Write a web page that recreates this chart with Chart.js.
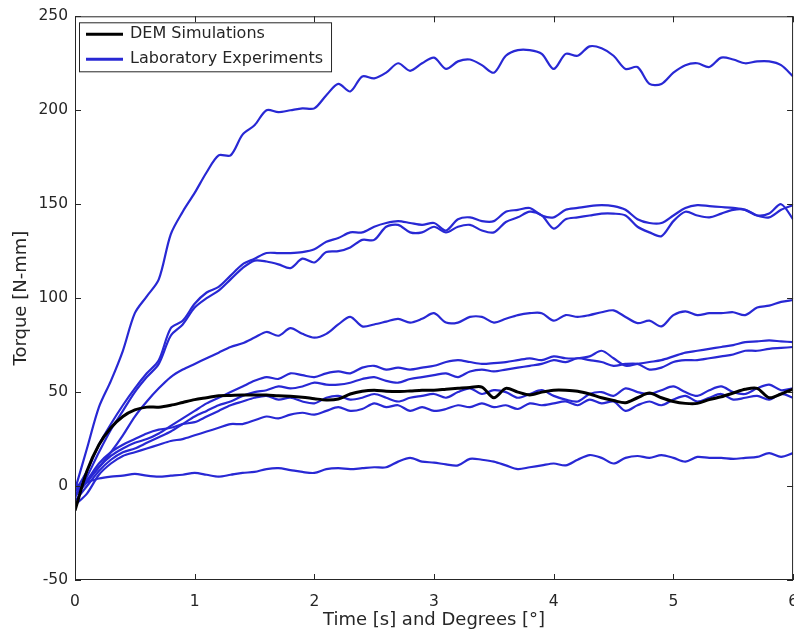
<!DOCTYPE html>
<html>
<head>
<meta charset="utf-8">
<script src="https://cdn.jsdelivr.net/npm/chart.js@4"></script>
<style>
  html, body { margin: 0; padding: 0; background: #fff; }
  #wrap { width: 794px; height: 633px; overflow: hidden; }
</style>
</head>
<body>
<div id="wrap"><canvas id="torque-chart" width="811" height="633"></canvas></div>
<script>
// sample times [s]
const time = [0,0.1,0.2,0.3,0.4,0.5,0.6,0.7,0.8,0.9,1,1.1,1.2,1.3,1.4,1.5,1.6,1.7,1.8,1.9,2,2.1,2.2,2.3,2.4,2.5,2.6,2.7,2.8,2.9,3,3.1,3.2,3.3,3.4,3.5,3.6,3.7,3.8,3.9,4,4.1,4.2,4.3,4.4,4.5,4.6,4.7,4.8,4.9,5,5.1,5.2,5.3,5.4,5.5,5.6,5.7,5.8,5.9,6];

const demTorque = [-13,8,22,31,37,40.5,42,42,43,44.5,46,47,48,48.2,48.4,48.4,48.4,48,47.8,47.3,46.5,45.8,46.3,49,50.5,51,50.5,50.3,50.6,51,51,51.5,52,52.5,52.7,47,52,50,48.5,50,51,51,50.5,49,47,45.5,44.3,47,49.5,47,45,44,44,46,47.5,49.5,51.5,52,47,49,51.6];

// laboratory runs
const labRun1 = [-2,20,42,56,72,92,101,110,134,146,156,167,176,176,187,192,200,199,200,201,201,208,214,210,218,217,220,225,221,225,228,222,226,227,224,220,229,232,232,230,222,230,229,234,233,229,222,223,214,214,220,224,225,223,228,227,225,226,226,224,218];
const labRun2 = [-3,8,22,33,43,52,60,67,84,88,97,103,106,112,118,121,124,124,124,124.5,126,130,132,135,135,138,140,141,140,139,140,136,142,143,141,141,146,147,148,144,143,147,148,149,149.5,149,147,142,140,140,144,148,149.5,149,148.5,148,147,144,145,150,142];
const labRun3 = [-6,5,18,30,40,50,58,65,80,86,95,100,104,110,116,120,119.5,118,116,121,119,124.5,125,127,131,131,138,139,135,135,138,135,138,139,136,135,140.5,143,146,144,137,142,143,144,145,145,144,138,135,133,141,146,144,143,145,147,147,144,143,147,149.5];
const labRun4 = [-3,3,10,18,27,37,45,52,58,62,65,68,71,74,76,79,82,80,84,81,79,81,86,90,85,86,87.5,89,87,89,92,87,87,90,90,87,89,91,92,92,88,91,90,91,92.5,93.5,90,86.7,88,85,91,93,91,92,92,92.5,91,95,96,98,99];
const labRun5 = [-5,2,10,16,20,23,25,28,32,36,40,44,47,50,53,56,58,57,60,59,58,60,61,60,63,64,62,63,62,63,64,66,67,66,65,65.4,66,67,68,67,69,68,68,69,72,68,64,65,66,67,69,71,72,73,74,75,76.6,77,77.5,77,76.6];
const labRun6 = [-8,0,8,14,18,20,23,26,29,33,37,40,43,45,48,50,51,53,52,53,55,54,54,55,57,58,56,55,57,58,59,60,58,61,62,61,62,63,64,65,67,66,68,67,66,64,65,65,62,63,66,67,67,68,69,70,72,72,73,73.5,74];
const labRun7 = [-5,3,12,18,22,25,28,30,31,33,34,37,40,43,45,47,48,46,47,45,44,47,48,46,47,49,47,45,47,48,49,47,50,52,49,51,50,47,49,51,48,46,45,49,50,48,52,50,49,51,53,50,48,51,53,50,49,52,54,51,52];
const labRun8 = [-10,-4,6,12,16,18,20,22,24,25,27,29,31,33,33,35,37,36,38,39,38,40,42,40,41,44,42,43,40,42,40,41,43,42,44,42,43,41,44,43,44,45,43,46,44,45,40,43,45,43,46,48,45,47,49,46,47,48,46,49,47];
const labRun9 = [0,2,4,5,5.5,6.5,5.5,5,5.5,6,7,6,5,6,7,7.5,9,9.5,8.5,7.5,7,9,9.5,9,9.5,10,10,13,15,13,12.5,11.5,11,14.5,14,13,11,9,10,11,12,11,14,16.5,15,12,15,16,15,16.5,15,13,15.5,15,15,14.5,15,15.5,17.5,15.5,17.5];

const labRuns = [labRun1, labRun2, labRun3, labRun4, labRun5, labRun6, labRun7, labRun8, labRun9];
const legendLabels = ['DEM Simulations', 'Laboratory Experiments'];
const xTicks = [0, 1, 2, 3, 4, 5, 6];
const yTicks = [-50, 0, 50, 100, 150, 200, 250];

const BLUE = '#2828d4';
const INK = '#262626';
const FONT = '"DejaVu Sans", Verdana, sans-serif';

const toPoints = vals => vals.map((v, i) => ({ x: time[i], y: v }));

const datasets = [
    {
        label: legendLabels[0],
        data: toPoints(demTorque),
        borderColor: '#000',
        borderWidth: 3,
        pointRadius: 0,
        tension: 0.3
    }
].concat(labRuns.map((run, i) => ({
    label: legendLabels[1] + ' ' + (i + 1),
    data: toPoints(run),
    borderColor: BLUE,
    borderWidth: 2.2,
    pointRadius: 0,
    tension: 0.3
})));

// MATLAB style box with inward ticks, plus the legend box
const axesBox = {
    id: 'axesBox',
    afterDatasetsDraw(chart) {
        const { ctx, chartArea: a, scales } = chart;
        ctx.save();
        ctx.strokeStyle = INK;
        ctx.lineWidth = 1;
        ctx.strokeRect(a.left + 0.5, a.top + 0.5, a.right - a.left - 1, a.bottom - a.top - 1);
        ctx.beginPath();
        const tl = 6;
        xTicks.forEach(t => {
            const px = Math.round(scales.x.getPixelForValue(t)) + 0.5;
            ctx.moveTo(px, a.bottom); ctx.lineTo(px, a.bottom - tl);
            ctx.moveTo(px, a.top); ctx.lineTo(px, a.top + tl);
        });
        yTicks.forEach(t => {
            const py = Math.round(scales.y.getPixelForValue(t)) + 0.5;
            ctx.moveTo(a.left, py); ctx.lineTo(a.left + tl, py);
            ctx.moveTo(a.right, py); ctx.lineTo(a.right - tl, py);
        });
        ctx.stroke();

        // legend
        ctx.font = '16px ' + FONT;
        const entries = [
            { text: legendLabels[0], color: '#000' },
            { text: legendLabels[1], color: BLUE }
        ];
        const textW = Math.max(...entries.map(e => ctx.measureText(e.text).width));
        const bx = a.left + 4, by = a.top + 6;
        const bw = 51 + textW + 8, bh = 49;
        ctx.fillStyle = '#fff';
        ctx.fillRect(bx, by, bw, bh);
        ctx.strokeStyle = INK;
        ctx.strokeRect(bx + 0.5, by + 0.5, bw, bh);
        entries.forEach((e, i) => {
            const ly = by + 12 + i * 25;
            ctx.strokeStyle = e.color;
            ctx.lineWidth = 3;
            ctx.beginPath();
            ctx.moveTo(bx + 7, ly); ctx.lineTo(bx + 44, ly);
            ctx.stroke();
            ctx.fillStyle = INK;
            ctx.textBaseline = 'middle';
            ctx.fillText(e.text, bx + 51, ly);
        });
        ctx.restore();
    }
};

new Chart(document.getElementById('torque-chart').getContext('2d'), {
    type: 'line',
    data: { datasets },
    options: {
        responsive: false,
        animation: false,
        devicePixelRatio: 1,
        layout: { padding: 0 },
        plugins: {
            legend: { display: false },
            tooltip: { enabled: false }
        },
        scales: {
            x: {
                type: 'linear',
                min: 0,
                max: 6,
                afterBuildTicks: s => { s.ticks = xTicks.map(v => ({ value: v })); },
                afterFit: s => { s.height = 53; },
                grid: { display: false, drawTicks: false },
                border: { display: false },
                ticks: { color: INK, font: { family: FONT, size: 15.5 }, padding: 13, maxRotation: 0 },
                title: { display: true, text: 'Time [s] and Degrees [°]', color: INK, font: { family: FONT, size: 18 }, padding: { top: 0, bottom: 2 } }
            },
            y: {
                min: -50,
                max: 250,
                afterBuildTicks: s => { s.ticks = yTicks.map(v => ({ value: v })); },
                afterFit: s => { s.width = 75; },
                grid: { display: false, drawTicks: false },
                border: { display: false },
                ticks: { color: INK, font: { family: FONT, size: 15.5 }, padding: 7 },
                title: { display: true, text: 'Torque [N-mm]', color: INK, font: { family: FONT, size: 18 }, padding: { top: 11, bottom: 0 } }
            }
        }
    },
    plugins: [axesBox]
});
</script>
</body>
</html>
